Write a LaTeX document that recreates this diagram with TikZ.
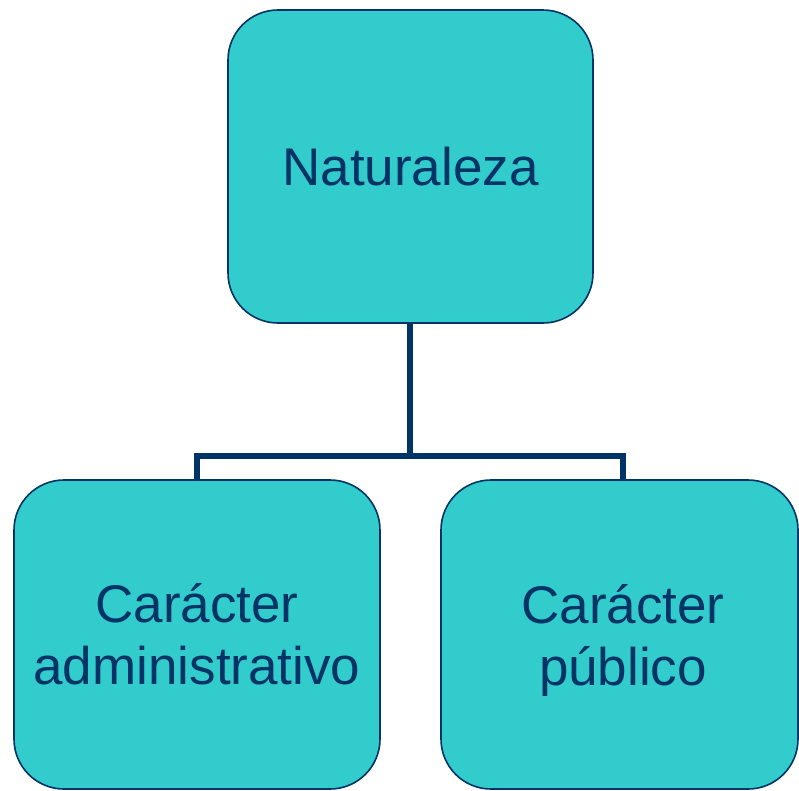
\documentclass[tikz,border=0pt]{standalone}
\usepackage{fontspec}
\setmainfont{Liberation Sans}
\definecolor{boxfill}{HTML}{33CCCC}
\definecolor{navy}{HTML}{003366}
\begin{document}
\begin{tikzpicture}[x=1pt,y=-1pt,
  boxtext/.style={text=navy,font=\fontsize{53}{62}\selectfont,align=center,inner sep=0pt},
  box/.style={draw=navy,line width=1.6pt,fill=boxfill,rounded corners=50pt,boxtext},
  conn/.style={draw=navy,line width=5.5pt}]
\useasboundingbox (0,0) rectangle (799,790);
\node[box,minimum width=365pt,minimum height=313pt] (top) at (410.5,166.5) {Naturaleza};
\node[box,minimum width=366pt,minimum height=309pt] (left) at (197,634.5) {Carácter\\administrativo};
\node[box,minimum width=357pt,minimum height=309pt] (right) at (619.5,634.5) {};
\node[boxtext] (rightlabel) at (623,640) {Carácter\\público};
\coordinate (topb) at (410,323);
\coordinate (mid) at (410,456);
\coordinate (lt) at (197,480);
\coordinate (rt) at (623,480);
\draw[conn] (topb) -- (mid) -| (lt);
\draw[conn] (mid) -| (rt);
\end{tikzpicture}
\end{document}
